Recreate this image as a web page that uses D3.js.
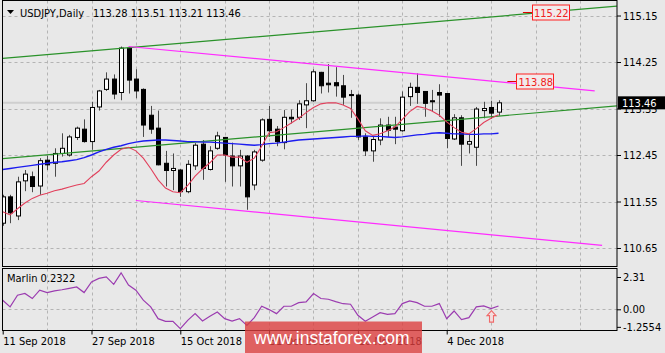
<!DOCTYPE html>
<html>
<head>
<meta charset="utf-8">
<script src="https://d3js.org/d3.v7.min.js"></script>
<style>
body { margin:0; background:#e8e8e8; }
svg { display:block; }
text { font-family: "DejaVu Sans Condensed", "DejaVu Sans", sans-serif; font-stretch: condensed; font-size: 11px; }
</style>
</head>
<body>
<svg id="chart" width="665" height="353"></svg>
<script>
// daily USDJPY bars, 11 Sep 2018 .. 13 Dec 2018
const opens  = [111.13,111.64,111.27,111.95,112.03,111.85,112.35,112.29,112.48,112.45,
                112.79,112.95,112.71,113.38,113.72,113.92,113.66,114.52,113.92,113.72,
                113.22,112.97,112.29,112.15,112.16,111.74,112.24,112.66,112.17,112.58,
                112.79,112.43,112.24,112.43,111.87,112.35,113.14,112.95,112.69,113.18,
                113.18,113.42,113.50,114.05,113.84,113.85,113.79,113.62,113.61,112.80,
                112.53,112.74,113.03,112.99,112.92,113.58,113.76,113.68,113.50,113.66,
                113.64,112.76,113.17,112.66,112.60,113.31,113.37,113.28];
const highs  = [111.68,111.68,112.03,112.16,112.13,112.39,112.44,112.58,112.87,112.84,
                113.00,113.14,113.48,113.71,114.05,114.01,114.55,114.55,114.11,113.74,
                113.40,113.31,112.53,112.48,112.18,112.35,112.68,112.74,112.62,112.90,
                112.80,112.69,112.55,112.45,112.55,113.16,113.40,113.01,113.32,113.33,
                113.51,113.84,114.11,114.06,114.21,114.15,114.00,113.71,113.64,112.87,
                112.80,113.16,113.19,113.19,113.68,113.85,114.03,113.68,113.71,113.82,
                113.64,113.24,113.22,112.84,113.38,113.48,113.50,113.51];
const lows   = [111.08,111.13,111.19,111.75,111.73,111.68,112.16,112.03,112.42,112.42,
                112.74,112.69,112.55,113.31,113.69,113.53,113.51,113.64,113.55,112.80,
                112.86,112.25,111.84,111.77,111.64,111.71,112.16,111.97,112.15,112.55,
                111.93,111.84,111.84,111.39,111.77,112.32,112.80,112.62,112.56,113.06,
                113.13,112.97,113.48,113.64,113.66,113.58,113.42,113.17,112.74,112.43,
                112.32,112.64,112.80,112.66,112.90,113.40,113.44,113.19,113.29,113.19,
                112.58,112.74,112.24,112.48,112.24,113.16,113.15,113.21];
const closes = [111.64,111.33,111.93,112.08,111.84,112.34,112.26,112.48,112.58,112.80,
                112.97,112.71,113.37,113.69,113.92,113.63,114.52,113.90,113.69,113.03,
                112.95,112.26,112.15,112.19,111.74,112.27,112.64,112.19,112.53,112.82,
                112.45,112.24,112.43,111.64,112.51,113.13,112.92,112.71,113.18,113.15,
                113.44,113.50,114.06,113.79,113.81,113.79,113.57,113.60,112.80,112.53,
                112.75,113.03,112.93,112.95,113.57,113.76,113.66,113.45,113.48,113.61,
                112.77,113.17,112.66,112.71,113.34,113.35,113.26,113.46];

// moving averages
const maFast = [111.35,111.29,111.41,111.52,111.61,111.67,111.71,111.76,111.79,111.83,
                111.87,111.90,112.03,112.14,112.31,112.45,112.56,112.60,112.53,112.39,
                112.19,111.97,111.81,111.74,111.72,111.86,112.04,112.18,112.30,112.45,
                112.45,112.41,112.41,112.31,112.39,112.62,112.88,112.90,112.98,113.07,
                113.16,113.27,113.37,113.44,113.46,113.46,113.42,113.35,113.15,112.92,
                112.83,112.86,112.92,112.99,113.14,113.29,113.39,113.36,113.30,113.22,
                113.09,112.98,112.89,112.86,112.96,113.08,113.16,113.23];
const maSlow = [112.17,112.19,112.21,112.23,112.25,112.27,112.29,112.31,112.32,112.34,
                112.36,112.40,112.45,112.51,112.56,112.60,112.63,112.67,112.70,112.72,
                112.73,112.74,112.74,112.73,112.72,112.71,112.71,112.70,112.70,112.69,
                112.68,112.67,112.66,112.65,112.64,112.65,112.67,112.68,112.70,112.72,
                112.74,112.75,112.76,112.77,112.78,112.79,112.80,112.81,112.81,112.82,
                112.81,112.81,112.80,112.79,112.80,112.82,112.84,112.85,112.87,112.88,
                112.87,112.86,112.86,112.85,112.85,112.86,112.86,112.87];

// Marlin oscillator
const marlin = [0.65,0.17,1.01,1.13,0.77,1.37,1.20,1.32,1.40,1.50,
                1.60,1.20,1.96,2.21,2.32,1.78,2.61,1.73,1.37,0.65,
                0.17,-0.67,-0.86,-0.86,-1.39,-0.79,-0.31,-0.84,-0.50,-0.19,
                -0.67,-0.84,-0.67,-1.15,-0.60,0.22,-0.02,-0.31,0.22,0.22,
                0.48,0.53,1.13,0.77,0.72,0.55,0.40,0.36,-0.43,-0.86,
                -0.55,-0.24,-0.36,-0.31,0.41,0.60,0.48,0.22,0.22,0.41,
                -0.67,-0.12,-0.74,-0.60,0.17,0.24,0.05,0.2322];

const priceTicks  = [110.65, 111.55, 112.45, 113.35, 114.25, 115.15];
const marlinTicks = [2.31, 0, -1.2554];
const dateTickIdx = [0, 12, 24, 36, 48, 60];
const dateTicks   = ["11 Sep 2018", "27 Sep 2018", "15 Oct 2018", "31 Oct 2018", "16 Nov 2018", "4 Dec 2018"];

// trend lines: [barIndex, price] pairs
const greenUpper   = [[0, 114.32], [83, 115.33]];
const greenLower   = [[0, 112.38], [83, 113.40]];
const magentaUpper = [[17, 114.55], [80, 113.69]];
const magentaLower = [[18, 111.57], [81, 110.70]];
const priceLabels  = [{idx: 70.3, price: 115.22}, {idx: 68.2, price: 113.88}];
const lastPrice = 113.46;

var left = 2.5, right = 617, mainTop = 0.5, mainBottom = 266.5, subTop = 268.5, subBottom = 330.5;

var x  = d3.scaleLinear().domain([0, 83]).range([2.7, 616.9]);
var y  = d3.scaleLinear().domain([110.292, 115.431]).range([266.5, 1]);
var y2 = d3.scaleLinear().domain([-1.516, 2.918]).range([subBottom, subTop]);

var svg = d3.select("#chart");
svg.append("rect").attr("width", 665).attr("height", 353).attr("fill", "#e8e8e8");

var defs = svg.append("defs");
defs.append("clipPath").attr("id", "clipMain").append("rect")
  .attr("x", left).attr("y", mainTop).attr("width", right - left).attr("height", mainBottom - mainTop);
defs.append("clipPath").attr("id", "clipSub").append("rect")
  .attr("x", left).attr("y", subTop).attr("width", right - left).attr("height", subBottom - subTop);

var main = svg.append("g").attr("clip-path", "url(#clipMain)");
var sub  = svg.append("g").attr("clip-path", "url(#clipSub)");

// grid
var gridX = d3.range(6, 84, 6);
[[main, mainTop, mainBottom], [sub, subTop, subBottom]].forEach(function(p) {
  p[0].selectAll(null).data(gridX).enter().append("line")
    .attr("x1", d => Math.round(x(d)) + 0.5).attr("x2", d => Math.round(x(d)) + 0.5)
    .attr("y1", p[1]).attr("y2", p[2])
    .attr("stroke", "#b4b4b4").attr("stroke-dasharray", "3,3");
});
main.selectAll(null).data(priceTicks).enter().append("line")
  .attr("x1", left).attr("x2", right)
  .attr("y1", d => Math.round(y(d)) + 0.5).attr("y2", d => Math.round(y(d)) + 0.5)
  .attr("stroke", "#b4b4b4").attr("stroke-dasharray", "3,3");
sub.append("line").attr("x1", left).attr("x2", right)
  .attr("y1", Math.round(y2(0)) + 0.5).attr("y2", Math.round(y2(0)) + 0.5)
  .attr("stroke", "#b4b4b4").attr("stroke-dasharray", "3,3");

// bid line
main.append("line").attr("x1", left).attr("x2", right)
  .attr("y1", y(lastPrice)).attr("y2", y(lastPrice))
  .attr("stroke", "#cfcfcf").attr("stroke-width", 2);

// candles
var bars = d3.range(opens.length);
var cg = main.append("g");
cg.selectAll("line").data(bars).enter().append("line")
  .attr("x1", i => Math.round(x(i)) + 0.5).attr("x2", i => Math.round(x(i)) + 0.5)
  .attr("y1", i => y(highs[i])).attr("y2", i => y(lows[i]))
  .attr("stroke", "#4a4a4a");
cg.selectAll("rect").data(bars).enter().append("rect")
  .attr("x", i => Math.round(x(i)) - 1.5)
  .attr("width", 4)
  .attr("y", i => Math.min(y(opens[i]), y(closes[i])))
  .attr("height", i => Math.max(1, Math.abs(y(opens[i]) - y(closes[i]))))
  .attr("fill", i => closes[i] >= opens[i] ? "#ffffff" : "#000000")
  .attr("stroke", "#000").attr("stroke-width", 1);

// trend lines
function seg(g, pts, color) {
  g.append("line")
    .attr("x1", x(pts[0][0])).attr("y1", y(pts[0][1]))
    .attr("x2", x(pts[1][0])).attr("y2", y(pts[1][1]))
    .attr("stroke", color).attr("stroke-width", 1.2);
}
seg(main, greenUpper, "#2a922a");
seg(main, greenLower, "#2a922a");
seg(main, magentaUpper, "#ff2cff");
seg(main, magentaLower, "#ff2cff");

// moving averages
var lineMain = v => d3.line().x((d, i) => x(i)).y(d => y(d))(v);
main.append("path").attr("d", lineMain(maSlow)).attr("fill", "none")
  .attr("stroke", "#1c1cf0").attr("stroke-width", 1.4);
main.append("path").attr("d", lineMain(maFast)).attr("fill", "none")
  .attr("stroke", "#e2405c").attr("stroke-width", 1.1);

// price labels on the channel lines
priceLabels.forEach(function(l) {
  var lx = x(l.idx), ly = Math.round(y(l.price)) + 0.5;
  main.append("line").attr("x1", lx).attr("x2", lx + 9).attr("y1", ly).attr("y2", ly)
    .attr("stroke", "#e00000").attr("stroke-width", 1.2);
  main.append("rect").attr("x", Math.round(lx + 9) + 0.5).attr("y", ly - 7.5)
    .attr("width", 37).attr("height", 15)
    .attr("fill", "#f2eaea").attr("stroke", "#ff2020");
  main.append("text").attr("x", lx + 11).attr("y", ly + 4.5)
    .attr("fill", "#f02020").text(l.price.toFixed(2));
});

// marlin line
sub.append("path")
  .attr("d", d3.line().x((d, i) => x(i)).y(d => y2(d))(marlin))
  .attr("fill", "none").attr("stroke", "#9b3cb0").attr("stroke-width", 1.2);

// arrow under last-but-one bar
var ax = Math.round(x(66)) + 0.5, ay = y2(marlin[66]) + 2;
sub.append("path")
  .attr("d", "M" + ax + "," + ay + " l4.5,5 h-2.5 v6.5 h-4 v-6.5 h-2.5 z")
  .attr("fill", "#f3dede").attr("stroke", "#f06a6a").attr("stroke-width", 1.1);

// frames
svg.append("rect").attr("x", left).attr("y", mainTop).attr("width", right - left).attr("height", mainBottom - mainTop)
  .attr("fill", "none").attr("stroke", "#000");
svg.append("rect").attr("x", left).attr("y", subTop).attr("width", right - left).attr("height", subBottom - subTop)
  .attr("fill", "none").attr("stroke", "#000");

// axes
var axR = svg.append("g").attr("transform", "translate(" + right + ",0)")
  .call(d3.axisRight(y).tickValues(priceTicks).tickFormat(d3.format(".2f")).tickSize(4).tickPadding(2));
var axR2 = svg.append("g").attr("transform", "translate(" + right + ",0)")
  .call(d3.axisRight(y2).tickValues(marlinTicks).tickFormat(d => d === 0 ? "0.00" : String(d)).tickSize(4).tickPadding(2));
var axB = svg.append("g").attr("transform", "translate(0," + subBottom + ")")
  .call(d3.axisBottom(x).tickValues(dateTickIdx).tickFormat((d, i) => dateTicks[i]).tickSize(4).tickPadding(3));
axB.selectAll("text").attr("text-anchor", "start").attr("dx", 0);
[axR, axR2, axB].forEach(function(a) {
  a.select(".domain").remove();
  a.selectAll("text").attr("fill", "#000").style("font-size", "11px")
    .style("font-family", '"DejaVu Sans Condensed", "DejaVu Sans", sans-serif');
  a.selectAll("line").attr("stroke", "#000");
});

// current price tag
svg.append("rect").attr("x", right + 1).attr("y", y(lastPrice) - 6.5).attr("width", 47).attr("height", 13).attr("fill", "#000");
svg.append("text").attr("x", right + 5).attr("y", y(lastPrice) + 4).attr("fill", "#fff").text(lastPrice.toFixed(2));

// title
svg.append("path").attr("d", "M7,10 L14,10 L10.5,14 Z").attr("fill", "#000");
svg.append("text").attr("x", 20).attr("y", 16.5).text("USDJPY,Daily");
svg.append("text").attr("x", 93).attr("y", 16.5)
  .text([opens, highs, lows, closes].map(a => a[a.length - 1].toFixed(2)).join(" "));

// oscillator label
svg.append("text").attr("x", 7).attr("y", 282).text("Marlin " + marlin[marlin.length - 1].toFixed(4));

// watermark
svg.append("rect").attr("x", 245).attr("y", 321.5).attr("width", 177).attr("height", 32)
  .attr("fill", "rgba(220,62,62,0.8)");
svg.append("text").attr("x", 254).attr("y", 343.5).attr("fill", "#fff")
  .style("font-family", '"Liberation Sans", Arial, sans-serif').style("font-size", "17.5px")
  .style("font-stretch", "normal").text("www.instaforex.com");
</script>
</body>
</html>
